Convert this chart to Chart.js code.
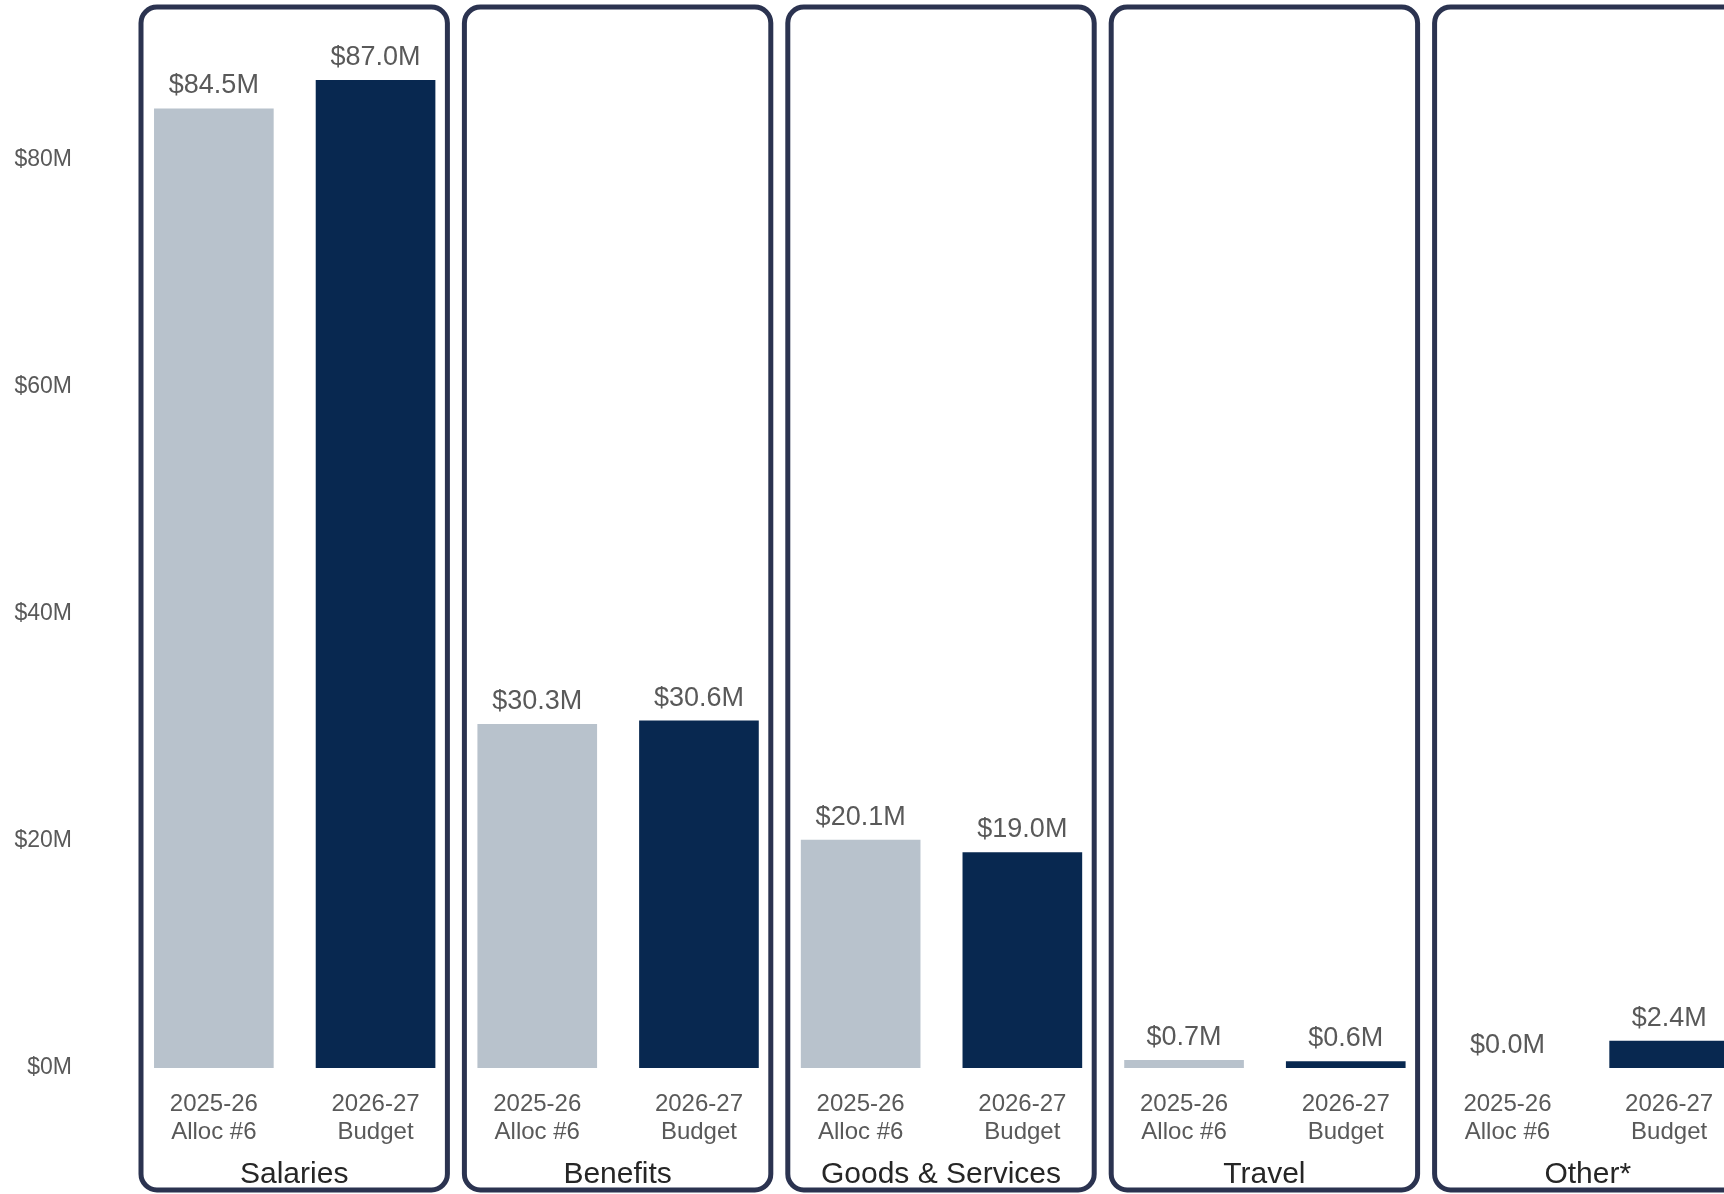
<!DOCTYPE html>
<html>
<head>
<meta charset="utf-8">
<script src="https://cdn.jsdelivr.net/npm/chart.js@4/dist/chart.umd.min.js"></script>
<style>
  html, body { margin: 0; padding: 0; overflow: hidden; background: #ffffff; }
  #wrap { width: 1780px; height: 1194px; }
</style>
</head>
<body>
<div id="wrap"><canvas id="c" width="1780" height="1194"></canvas></div>
<script>
const groups = ['Salaries', 'Benefits', 'Goods & Services', 'Travel', 'Other*'];
const periodLabels = [['2025-26', 'Alloc #6'], ['2026-27', 'Budget']];
const alloc = [84.5, 30.3, 20.1, 0.7, 0.0];
const budget = [87.0, 30.6, 19.0, 0.6, 2.4];
const yTicks = [0, 20, 40, 60, 80];

const FONT = "'Liberation Sans', Arial, sans-serif";
const LIGHT = '#b8c2cc';
const DARK = '#082850';

const categories = [];
const values = [];
const colors = [];
groups.forEach((g, i) => {
  categories.push(periodLabels[0]); values.push(alloc[i]); colors.push(LIGHT);
  categories.push(periodLabels[1]); values.push(budget[i]); colors.push(DARK);
});

function zeroPad(s) {
  s.paddingTop = 0; s.paddingBottom = 0; s.paddingLeft = 0; s.paddingRight = 0;
}

const panelPlugin = {
  id: 'panels',
  beforeDatasetsDraw(chart) {
    const { ctx } = chart;
    const x = chart.scales.x;
    const half = (x.getPixelForValue(1) - x.getPixelForValue(0)) / 2;
    const top = 7, bottom = chart.height - 4;
    groups.forEach((g, i) => {
      const l = x.getPixelForValue(2 * i) - half + 8;
      const r = x.getPixelForValue(2 * i + 1) + half - 9;
      ctx.save();
      ctx.lineWidth = 5;
      ctx.strokeStyle = '#2b3350';
      ctx.beginPath();
      ctx.roundRect(l, top, r - l, bottom - top, 16);
      ctx.stroke();
      ctx.font = '30px ' + FONT;
      ctx.fillStyle = '#262626';
      ctx.textAlign = 'center';
      ctx.textBaseline = 'middle';
      ctx.fillText(g, (l + r) / 2, chart.height - 19);
      ctx.restore();
    });
  },
  afterDatasetsDraw(chart) {
    const { ctx } = chart;
    const meta = chart.getDatasetMeta(0);
    ctx.save();
    ctx.font = '27px ' + FONT;
    ctx.fillStyle = '#595959';
    ctx.textAlign = 'center';
    ctx.textBaseline = 'alphabetic';
    meta.data.forEach((bar, i) => {
      const v = chart.data.datasets[0].data[i];
      ctx.fillText('$' + v.toFixed(1) + 'M', bar.x, bar.y - 15);
    });
    ctx.restore();
  }
};

new Chart(document.getElementById('c'), {
  type: 'bar',
  data: {
    labels: categories,
    datasets: [{
      data: values,
      backgroundColor: colors,
      borderWidth: 0,
      categoryPercentage: 1,
      barPercentage: 0.74
    }]
  },
  options: {
    responsive: false,
    animation: false,
    devicePixelRatio: 1,
    layout: { padding: { top: 46, right: 30, left: 0, bottom: 0 } },
    plugins: { legend: { display: false }, tooltip: { enabled: false } },
    scales: {
      x: {
        grid: { display: false, drawTicks: false },
        border: { display: false },
        ticks: {
          color: '#595959',
          font: { family: FONT, size: 24, lineHeight: 1.15 },
          padding: 23,
          maxRotation: 0,
          autoSkip: false
        },
        afterFit(s) { s.height = 126; zeroPad(s); }
      },
      y: {
        min: 0,
        max: 90,
        grid: { display: false, drawTicks: false },
        border: { display: false },
        ticks: {
          color: '#595959',
          font: { family: FONT, size: 23 },
          padding: 61,
          callback: (v) => '$' + v + 'M'
        },
        afterBuildTicks(s) { s.ticks = yTicks.map(v => ({ value: v })); },
        afterFit(s) { s.width = 133; zeroPad(s); }
      }
    }
  },
  plugins: [panelPlugin]
});
</script>
</body>
</html>
